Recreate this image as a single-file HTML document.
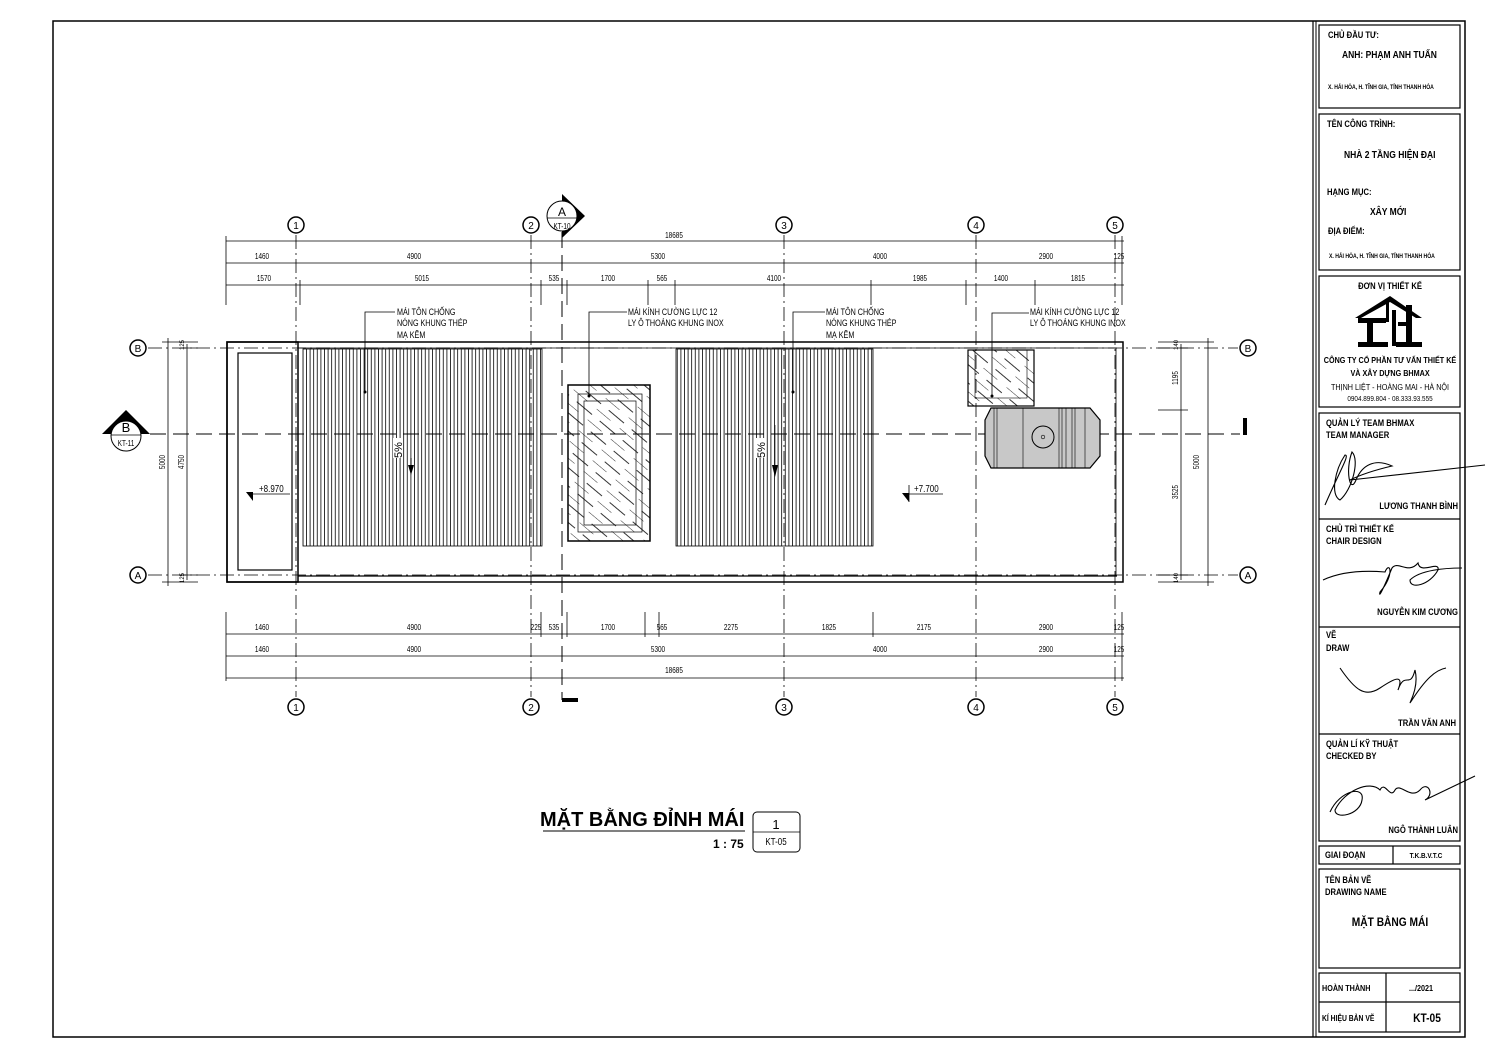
<!DOCTYPE html>
<html><head><meta charset="utf-8"><style>
html,body{margin:0;padding:0;background:#fff}
svg{display:block}
text{font-family:"Liberation Sans",sans-serif;fill:#000}
.d{font-size:8px}
.d text,.cc{transform:scaleX(.8);transform-box:fill-box;transform-origin:center}
.l{font-size:9px}
.l text,.ll{transform:scaleX(.8);transform-box:fill-box;transform-origin:left center}
.rr{transform:scaleX(.85);transform-box:fill-box;transform-origin:right center}
.tb{font-size:9px;font-weight:bold}
.tb text{transform:scaleX(.85);transform-box:fill-box;transform-origin:left center}
.tb text.cc{transform-origin:center}
.tb text.rr{transform-origin:right center}
</style></head><body>
<svg width="1491" height="1055" viewBox="0 0 1491 1055" xmlns="http://www.w3.org/2000/svg">
<defs>
<pattern id="corr" width="3.6" height="10" patternUnits="userSpaceOnUse"><line x1="0.5" y1="0" x2="0.5" y2="10" stroke="#000" stroke-width="0.8"/></pattern>
<pattern id="hatch" width="14" height="30" patternUnits="userSpaceOnUse" patternTransform="rotate(-50)"><line x1="0" y1="0" x2="0" y2="18" stroke="#000" stroke-width="0.8"/><line x1="7" y1="10" x2="7" y2="30" stroke="#000" stroke-width="0.8"/></pattern>
</defs>
<rect width="1491" height="1055" fill="#fff"/>
<rect x="53" y="21" width="1412" height="1016" fill="none" stroke="#000" stroke-width="1.5"/>
<line x1="1313" y1="21" x2="1313" y2="1037" stroke="#000" stroke-width="1.2"/>
<line x1="1316" y1="21" x2="1316" y2="1037" stroke="#000" stroke-width="1"/>

<g stroke="#000" stroke-width="0.8" stroke-dasharray="14,4,2,4" fill="none">
<line x1="296" y1="235" x2="296" y2="697"/>
<line x1="531" y1="235" x2="531" y2="697"/>
<line x1="784" y1="235" x2="784" y2="697"/>
<line x1="976" y1="235" x2="976" y2="697"/>
<line x1="1115" y1="235" x2="1115" y2="697"/>
<line x1="148" y1="348" x2="1238" y2="348"/>
<line x1="148" y1="575" x2="1238" y2="575"/>
</g>
<g stroke="#000" stroke-width="1" stroke-dasharray="16,7" fill="none">
<line x1="150" y1="434" x2="1240" y2="434"/>
<line x1="562" y1="232" x2="562" y2="700"/>
</g>
<rect x="562" y="698" width="16" height="4" fill="#000"/>
<rect x="1243" y="418" width="4" height="17" fill="#000"/>

<g stroke="#000" stroke-width="1.5" fill="#fff">
<circle cx="296" cy="225" r="8"/><circle cx="531" cy="225" r="8"/><circle cx="784" cy="225" r="8"/><circle cx="976" cy="225" r="8"/><circle cx="1115" cy="225" r="8"/>
<circle cx="296" cy="707" r="8"/><circle cx="531" cy="707" r="8"/><circle cx="784" cy="707" r="8"/><circle cx="976" cy="707" r="8"/><circle cx="1115" cy="707" r="8"/>
<circle cx="138" cy="348" r="8"/><circle cx="138" cy="575" r="8"/><circle cx="1248" cy="348" r="8"/><circle cx="1248" cy="575" r="8"/>
</g>
<g font-size="10" text-anchor="middle">
<text x="296" y="229">1</text><text x="531" y="229">2</text><text x="784" y="229">3</text><text x="976" y="229">4</text><text x="1115" y="229">5</text>
<text x="296" y="711">1</text><text x="531" y="711">2</text><text x="784" y="711">3</text><text x="976" y="711">4</text><text x="1115" y="711">5</text>
<text x="138" y="352">B</text><text x="138" y="579">A</text><text x="1248" y="352">B</text><text x="1248" y="579">A</text>
</g>

<polygon points="562,194 585,216 562,238" fill="#000"/>
<circle cx="562" cy="216" r="15" fill="#fff" stroke="#000" stroke-width="1"/>
<line x1="547" y1="218" x2="577" y2="218" stroke="#000" stroke-width="0.8"/>
<text x="562" y="216" font-size="12" text-anchor="middle">A</text>
<text x="562" y="229" font-size="8" text-anchor="middle" class="cc">KT-10</text>
<polygon points="102,434 126,410 150,434" fill="#000"/>
<circle cx="126" cy="436" r="15" fill="#fff" stroke="#000" stroke-width="1"/>
<line x1="111" y1="435" x2="141" y2="435" stroke="#000" stroke-width="0.8"/>
<text x="126" y="432" font-size="13" text-anchor="middle">B</text>
<text x="126" y="446" font-size="8" text-anchor="middle" class="cc">KT-11</text>

<g stroke="#000" stroke-width="0.8">
<line x1="226" y1="241" x2="1124" y2="241"/>
<line x1="226" y1="263" x2="1124" y2="263"/>
<line x1="226" y1="285" x2="1124" y2="285"/>
<line x1="226" y1="236" x2="226" y2="305"/>
<line x1="300" y1="280" x2="300" y2="305"/>
<line x1="541" y1="280" x2="541" y2="305"/>
<line x1="567" y1="280" x2="567" y2="305"/>
<line x1="648" y1="280" x2="648" y2="305"/>
<line x1="675" y1="280" x2="675" y2="305"/>
<line x1="871" y1="280" x2="871" y2="305"/>
<line x1="966" y1="280" x2="966" y2="305"/>
<line x1="1035" y1="280" x2="1035" y2="305"/>
<line x1="1122" y1="236" x2="1122" y2="305"/>
</g>
<g class="d" text-anchor="middle">
<text x="674" y="238">18685</text>
<text x="262" y="259">1460</text><text x="414" y="259">4900</text><text x="658" y="259">5300</text><text x="880" y="259">4000</text><text x="1046" y="259">2900</text><text x="1119" y="259">125</text>
<text x="264" y="281">1570</text><text x="422" y="281">5015</text><text x="554" y="281">535</text><text x="608" y="281">1700</text><text x="662" y="281">565</text><text x="774" y="281">4100</text><text x="920" y="281">1985</text><text x="1001" y="281">1400</text><text x="1078" y="281">1815</text>
</g>

<g stroke="#000" stroke-width="0.8">
<line x1="226" y1="634" x2="1124" y2="634"/>
<line x1="226" y1="656" x2="1124" y2="656"/>
<line x1="226" y1="678" x2="1124" y2="678"/>
<line x1="226" y1="612" x2="226" y2="681"/>
<line x1="1122" y1="612" x2="1122" y2="681"/>
<line x1="541" y1="612" x2="541" y2="637"/>
<line x1="567" y1="612" x2="567" y2="637"/>
<line x1="645" y1="612" x2="645" y2="637"/>
<line x1="659" y1="612" x2="659" y2="637"/>
<line x1="873" y1="612" x2="873" y2="637"/>
</g>
<g class="d" text-anchor="middle">
<text x="262" y="630">1460</text><text x="414" y="630">4900</text><text x="536" y="630">225</text><text x="554" y="630">535</text><text x="608" y="630">1700</text><text x="662" y="630">565</text><text x="731" y="630">2275</text><text x="829" y="630">1825</text><text x="924" y="630">2175</text><text x="1046" y="630">2900</text><text x="1119" y="630">125</text>
<text x="262" y="652">1460</text><text x="414" y="652">4900</text><text x="658" y="652">5300</text><text x="880" y="652">4000</text><text x="1046" y="652">2900</text><text x="1119" y="652">125</text>
<text x="674" y="673">18685</text>
</g>

<g stroke="#000" stroke-width="0.8">
<line x1="168" y1="338" x2="168" y2="586"/><line x1="162" y1="342" x2="198" y2="342"/><line x1="162" y1="582" x2="198" y2="582"/>
<line x1="187" y1="344" x2="187" y2="580"/><line x1="180" y1="348" x2="198" y2="348"/><line x1="180" y1="575" x2="198" y2="575"/>
<line x1="1181" y1="344" x2="1181" y2="580"/><line x1="1158" y1="348" x2="1188" y2="348"/><line x1="1158" y1="410" x2="1188" y2="410"/><line x1="1158" y1="575" x2="1188" y2="575"/>
<line x1="1208" y1="338" x2="1208" y2="586"/><line x1="1158" y1="342" x2="1214" y2="342"/><line x1="1158" y1="582" x2="1214" y2="582"/>
</g>
<g font-size="8" text-anchor="middle">
<text transform="translate(165,462) rotate(-90) scale(.8,1)">5000</text>
<text transform="translate(184,462) rotate(-90) scale(.8,1)">4750</text>
<text transform="translate(1178,378) rotate(-90) scale(.8,1)">1195</text>
<text transform="translate(1178,492) rotate(-90) scale(.8,1)">3525</text>
<text transform="translate(1199,462) rotate(-90) scale(.8,1)">5000</text>
<text transform="translate(184,345) rotate(-90)" font-size="6">125</text>
<text transform="translate(184,578) rotate(-90)" font-size="6">125</text>
<text transform="translate(1178,345) rotate(-90)" font-size="6">140</text>
<text transform="translate(1178,578) rotate(-90)" font-size="6">140</text>
</g>

<g fill="none" stroke="#000">
<rect x="227" y="342" width="896" height="240" stroke-width="1.5"/>
<line x1="298" y1="348" x2="1117" y2="348" stroke-width="0.8"/>
<line x1="298" y1="576" x2="1117" y2="576" stroke-width="1.2"/>
<line x1="1116" y1="348" x2="1116" y2="576" stroke-width="0.8"/>
<rect x="227" y="342" width="71" height="240" stroke-width="1.5"/>
<rect x="238" y="353" width="54" height="217" stroke-width="1.2"/>
</g>
<rect x="303" y="349" width="239" height="197" fill="url(#corr)" stroke="#000" stroke-width="0.8"/>
<rect x="676" y="349" width="197" height="197" fill="url(#corr)" stroke="#000" stroke-width="0.8"/>
<rect x="568" y="385" width="82" height="156" fill="url(#hatch)" stroke="#000" stroke-width="1.5"/>
<rect x="578" y="394" width="64" height="138" fill="none" stroke="#000" stroke-width="0.7"/>
<rect x="584" y="401" width="52" height="124" fill="none" stroke="#000" stroke-width="0.7"/>
<rect x="968" y="350" width="66" height="56" fill="url(#hatch)" stroke="#000" stroke-width="1.2"/>
<rect x="975" y="350" width="52" height="48" fill="none" stroke="#000" stroke-width="0.6"/>
<polygon points="991,408 1090,408 1100,420 1100,456 1090,468 991,468 985,456 985,420" fill="#c8c8c8" stroke="#000" stroke-width="1.2"/>
<g stroke="#000" stroke-width="0.6"><line x1="994" y1="408" x2="994" y2="468"/><line x1="997" y1="408" x2="997" y2="468"/><line x1="1023" y1="408" x2="1023" y2="468"/><line x1="1059" y1="408" x2="1059" y2="468"/><line x1="1062" y1="408" x2="1062" y2="468"/><line x1="1066" y1="408" x2="1066" y2="468"/><line x1="1072" y1="408" x2="1072" y2="468"/><line x1="1075" y1="408" x2="1075" y2="468"/><line x1="1085" y1="408" x2="1085" y2="468"/></g>
<circle cx="1043" cy="437" r="11" fill="none" stroke="#000" stroke-width="1"/>
<circle cx="1043" cy="437" r="1.8" fill="none" stroke="#000" stroke-width="0.6"/>

<rect x="393" y="438" width="10" height="20" fill="#fff"/>
<text transform="translate(402,458) rotate(-90)" font-size="11">5%</text>
<polygon points="408,465 414,465 411,475" fill="#000"/>
<line x1="411" y1="458" x2="411" y2="467" stroke="#000"/>
<rect x="756" y="438" width="10" height="20" fill="#fff"/>
<text transform="translate(765,458) rotate(-90)" font-size="11">5%</text>
<polygon points="772,465 778,465 775,477" fill="#000"/>
<line x1="775" y1="425" x2="775" y2="467" stroke="#000" stroke-width="0.6"/>

<polygon points="246,492 253,492 253,501" fill="#000"/>
<line x1="253" y1="494" x2="290" y2="494" stroke="#000" stroke-width="0.8"/>
<text x="259" y="492" font-size="10" class="ll">+8.970</text>
<polygon points="902,493 909,493 909,502" fill="#000"/>
<line x1="909" y1="485" x2="909" y2="502" stroke="#000" stroke-width="0.8"/>
<line x1="909" y1="494" x2="943" y2="494" stroke="#000" stroke-width="0.8"/>
<text x="914" y="492" font-size="10" class="ll">+7.700</text>

<g stroke="#000" stroke-width="0.8" fill="none">
<polyline points="365,392 365,312 395,312"/>
<polyline points="589,395 589,312 627,312"/>
<polyline points="793,392 793,312 825,312"/>
<polyline points="992,395 992,313 1029,313"/>
</g>
<g fill="#000"><circle cx="365" cy="392" r="1.5"/><circle cx="589" cy="396" r="1.5"/><circle cx="793" cy="392" r="1.5"/><circle cx="992" cy="396" r="1.5"/></g>
<g class="l">
<text x="397" y="315">MÁI TÔN CHỐNG</text><text x="397" y="326">NÓNG KHUNG THÉP</text><text x="397" y="338">MẠ KẼM</text>
<text x="628" y="315">MÁI KÍNH CƯỜNG LỰC 12</text><text x="628" y="326">LY Ô THOÁNG KHUNG INOX</text>
<text x="826" y="315">MÁI TÔN CHỐNG</text><text x="826" y="326">NÓNG KHUNG THÉP</text><text x="826" y="338">MẠ KẼM</text>
<text x="1030" y="315">MÁI KÍNH CƯỜNG LỰC 12</text><text x="1030" y="326">LY Ô THOÁNG KHUNG INOX</text>
</g>

<text x="540" y="826" font-size="20" font-weight="bold">MẶT BẰNG ĐỈNH MÁI</text>
<line x1="543" y1="831" x2="745" y2="831" stroke="#000" stroke-width="1"/>
<text x="713" y="848" font-size="12" font-weight="bold">1 : 75</text>
<rect x="753" y="812" width="47" height="40" rx="4" fill="none" stroke="#000" stroke-width="1"/>
<line x1="753" y1="832" x2="800" y2="832" stroke="#000" stroke-width="0.8"/>
<text x="776" y="829" font-size="13" text-anchor="middle">1</text>
<text x="776" y="845" font-size="10" text-anchor="middle" class="cc">KT-05</text>

<g fill="none" stroke="#000" stroke-width="1.2">
<rect x="1319" y="25" width="141" height="83"/>
<rect x="1319" y="114" width="141" height="156"/>
<rect x="1319" y="276" width="141" height="131"/>
<rect x="1319" y="413" width="141" height="428"/>
<line x1="1319" y1="519" x2="1460" y2="519"/>
<line x1="1319" y1="627" x2="1460" y2="627"/>
<line x1="1319" y1="734" x2="1460" y2="734"/>
<rect x="1319" y="846" width="141" height="18"/>
<line x1="1393" y1="846" x2="1393" y2="864"/>
<rect x="1319" y="869" width="141" height="99"/>
<rect x="1319" y="973" width="141" height="59"/>
<line x1="1319" y1="1002" x2="1460" y2="1002"/>
<line x1="1386" y1="973" x2="1386" y2="1032"/>
</g>
<g class="tb">
<text x="1328" y="38">CHỦ ĐẦU TƯ:</text>
<text x="1342" y="58" font-size="10">ANH: PHẠM ANH TUẤN</text>
<text x="1328" y="89" font-size="6">X. HẢI HÒA, H. TĨNH GIA, TỈNH THANH HÓA</text>
<text x="1327" y="127">TÊN CÔNG TRÌNH:</text>
<text x="1344" y="158" font-size="10">NHÀ 2 TẦNG HIỆN ĐẠI</text>
<text x="1327" y="195">HẠNG MỤC:</text>
<text x="1370" y="215" font-size="10">XÂY MỚI</text>
<text x="1328" y="234">ĐỊA ĐIỂM:</text>
<text x="1329" y="258" font-size="6">X. HẢI HÒA, H. TĨNH GIA, TỈNH THANH HÓA</text>
<text x="1390" y="289" text-anchor="middle" class="cc">ĐƠN VỊ THIẾT KẾ</text>
<text x="1390" y="363" text-anchor="middle" font-size="8.5" class="cc">CÔNG TY CỔ PHẦN TƯ VẤN THIẾT KẾ</text>
<text x="1390" y="376" text-anchor="middle" font-size="8.5" class="cc">VÀ XÂY DỰNG BHMAX</text>
<text x="1390" y="390" text-anchor="middle" font-size="8.5" font-weight="normal" class="cc">THỊNH LIỆT - HOÀNG MAI - HÀ NỘI</text>
<text x="1390" y="401" text-anchor="middle" font-size="7.5" font-weight="normal" class="cc">0904.899.804 - 08.333.93.555</text>
<text x="1326" y="426">QUẢN LÝ TEAM BHMAX</text><text x="1326" y="438">TEAM MANAGER</text>
<text x="1458" y="509" text-anchor="end" class="rr">LƯƠNG THANH BÌNH</text>
<text x="1326" y="532">CHỦ TRÌ THIẾT KẾ</text><text x="1326" y="544">CHAIR DESIGN</text>
<text x="1458" y="615" text-anchor="end" class="rr">NGUYỄN KIM CƯƠNG</text>
<text x="1326" y="638">VẼ</text><text x="1326" y="651">DRAW</text>
<text x="1456" y="726" text-anchor="end" class="rr">TRẦN VĂN ANH</text>
<text x="1326" y="747">QUẢN LÍ KỸ THUẬT</text><text x="1326" y="759">CHECKED BY</text>
<text x="1458" y="833" text-anchor="end" class="rr">NGÔ THÀNH LUÂN</text>
<text x="1325" y="858">GIAI ĐOẠN</text>
<text x="1426" y="858" text-anchor="middle" font-size="7.5" class="cc">T.K.B.V.T.C</text>
<text x="1325" y="883">TÊN BẢN VẼ</text><text x="1325" y="895">DRAWING NAME</text>
<text x="1390" y="926" text-anchor="middle" font-size="12" class="cc">MẶT BẰNG MÁI</text>
<text x="1322" y="991" font-size="8.5">HOÀN THÀNH</text>
<text x="1421" y="991" text-anchor="middle" font-size="8.5" class="cc">.../2021</text>
<text x="1322" y="1021" font-size="8">KÍ HIỆU BẢN VẼ</text>
<text x="1427" y="1022" text-anchor="middle" font-size="12" class="cc">KT-05</text>
</g>
<g fill="#000">
<polygon points="1355,318 1390,296 1422,318 1416,318 1390,302 1361,318"/>
<rect x="1358" y="318" width="28" height="5"/>
<rect x="1367" y="318" width="6" height="28"/>
<rect x="1358" y="342" width="30" height="5"/>
<rect x="1392" y="310" width="4" height="36"/>
<rect x="1406" y="305" width="6" height="41"/>
<rect x="1398" y="322" width="14" height="4"/>
<rect x="1396" y="342" width="26" height="5"/>
<rect x="1386" y="302" width="3" height="20"/>
</g>
<g fill="none" stroke="#000" stroke-width="1.1">
<path d="M1325,505 C1340,470 1350,455 1345,455 C1335,470 1330,495 1340,500 C1352,490 1360,460 1352,452 C1345,470 1350,495 1356,480 C1362,465 1375,458 1392,466 C1375,470 1360,475 1350,480 L1485,465"/>
<path d="M1323,580 C1340,572 1360,570 1385,572 C1390,560 1395,575 1380,592 C1378,600 1385,585 1392,568 C1398,560 1408,575 1418,563 C1420,575 1440,560 1438,570 C1430,585 1410,590 1410,580 C1420,570 1445,568 1462,568"/>
<path d="M1340,668 C1355,690 1365,698 1380,688 C1392,680 1405,672 1398,690 C1405,670 1410,690 1415,670 C1420,690 1405,710 1412,700 C1425,680 1435,670 1446,668"/>
<path d="M1330,812 C1340,790 1365,785 1362,800 C1360,815 1335,820 1335,810 C1345,790 1370,780 1380,790 C1385,780 1390,800 1395,790 C1400,782 1410,800 1420,790 C1428,780 1435,795 1425,800 L1475,776"/>
</g>
</svg>
</body></html>
